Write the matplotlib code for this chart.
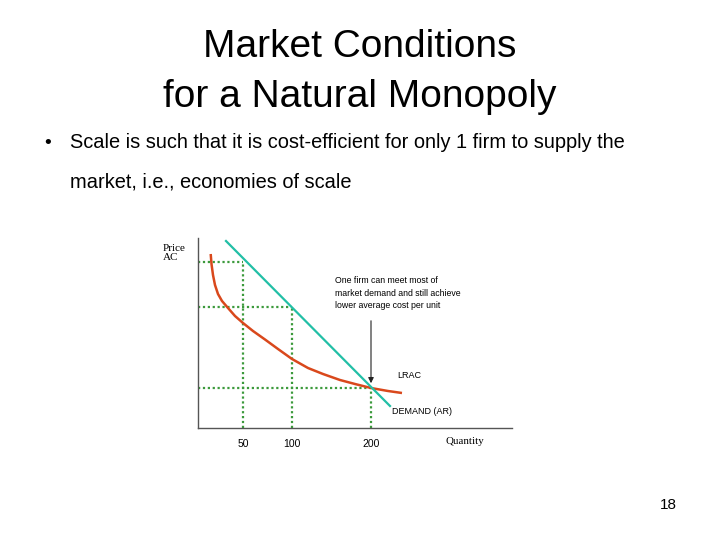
import numpy as np
import matplotlib
matplotlib.use('Agg')
from matplotlib import pyplot as plt

# values (axis units = pixels from origin, axis is not linear)
tick_pos = [45, 94, 173]
tick_labels = ['50', '100', '200']
level_y = [166, 121, 40]          # dotted horizontal levels, one per tick

lrac_x = [12.7, 13.5, 15, 17, 20, 24, 30, 37, 45, 55, 67, 80, 94,
          110, 125, 142, 157, 173, 190, 204]
lrac_y = [174, 164, 153, 143, 134, 127, 120, 112, 105, 97, 88.5, 79, 69,
          60, 54, 48, 44, 40, 37, 35]

demand_x = [28, 192]
demand_y = [187, 22]

teal = '#22bfa6'
red = '#d9481c'
green = '#3c9a3c'

fig = plt.figure(figsize=(7.2, 5.4), dpi=100)

# slide text
fig.text(0.5, 1 - 47 / 540, 'Market Conditions', ha='center', va='center',
         fontsize=28, family='Liberation Sans')
fig.text(0.5, 1 - 97 / 540, 'for a Natural Monopoly', ha='center', va='center',
         fontsize=28, family='Liberation Sans')
fig.text(44 / 720, 1 - 143 / 540, '\u2022', ha='left', va='center',
         fontsize=14, family='Liberation Sans')
fig.text(70 / 720, 1 - 143 / 540,
         'Scale is such that it is cost-efficient for only 1 firm to supply the',
         ha='left', va='center', fontsize=14.4, family='Liberation Sans')
fig.text(70 / 720, 1 - 182 / 540, 'market, i.e., economies of scale',
         ha='left', va='center', fontsize=14.4, family='Liberation Sans')
fig.text(668 / 720, 1 - 505 / 540, '18', ha='center', va='center',
         fontsize=11, family='Liberation Sans')

# chart
ax = fig.add_axes([198 / 720, 1 - 428 / 540, 314 / 720, 190 / 540])
ax.set_xlim(0, 314)
ax.set_ylim(0, 190)
for s in ['top', 'right']:
    ax.spines[s].set_visible(False)
for s in ['left', 'bottom']:
    ax.spines[s].set_color('#555555')
    ax.spines[s].set_linewidth(1)
ax.set_yticks([])
ax.set_xticks(tick_pos)
ax.set_xticklabels(tick_labels, fontsize=7.5, family='Liberation Sans')
ax.tick_params(axis='x', length=0, pad=8)

# dotted guide lines
for xp, yl in zip(tick_pos, level_y):
    ax.plot([0, xp], [yl, yl], color=green, lw=1.6, ls=(0, (1, 1.2)))
    ax.plot([xp, xp], [0, yl], color=green, lw=1.6, ls=(0, (1, 1.2)))

ax.plot(lrac_x, lrac_y, color=red, lw=1.8, solid_capstyle='butt',
        solid_joinstyle='round')
ax.plot(demand_x, demand_y, color=teal, lw=1.6)

ax.annotate('', xy=(173, 42), xytext=(173, 110),
            arrowprops=dict(arrowstyle='-|>', color='#222222', lw=0.8,
                            mutation_scale=8))
ax.text(137, 135, 'One firm can meet most of\nmarket demand and still achieve\nlower average cost per unit',
        ha='left', va='center', fontsize=6.3, family='Liberation Sans',
        linespacing=1.45)
ax.text(199, 52, 'LRAC', ha='left', va='center', fontsize=6.5,
        family='Liberation Sans')
ax.text(194, 16, 'DEMAND (AR)', ha='left', va='center', fontsize=6.5,
        family='Liberation Sans')
ax.text(247, -13, 'Quantity', ha='left', va='center', fontsize=7.8,
        family='Liberation Serif', clip_on=False)
ax.text(-35, 175, 'Price\nAC', ha='left', va='center', fontsize=8,
        family='Liberation Serif', linespacing=1.1, clip_on=False)

fig.savefig('out.png', dpi=100)
